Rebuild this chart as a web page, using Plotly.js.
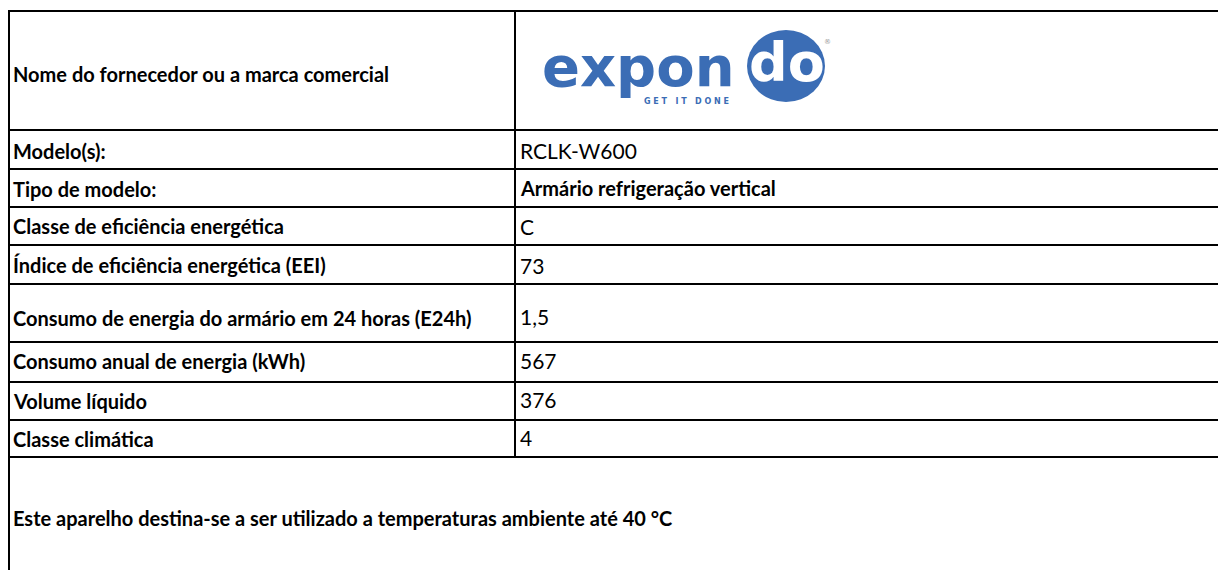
<!DOCTYPE html>
<html>
<head>
<meta charset="utf-8">
<script src="https://cdn.plot.ly/plotly-3.0.1.min.js"></script>
<style>html,body{margin:0;padding:0;background:#fff;}#chart{width:1218px;height:570px;}</style>
</head>
<body>
<div id="chart"></div>
<script>
// ---- data ----
var labels = [
  "Nome do fornecedor ou a marca comercial",
  "Modelo(s):",
  "Tipo de modelo:",
  "Classe de eficiência energética",
  "Índice de eficiência energética (EEI)",
  "Consumo de energia do armário em 24 horas (E24h)",
  "Consumo anual de energia (kWh)",
  "Volume líquido",
  "Classe climática"
];
var values = ["", "RCLK-W600", "Armário refrigeração vertical", "C", "73", "1,5", "567", "376", "4"];
var boldValues = [false, false, true, false, false, false, false, false, false];
var footnote = "Este aparelho destina-se a ser utilizado a temperaturas ambiente até 40 °C";
var brandWord = "expon";
var brandCircle = "do";
var brandTagline = "G E T   I T   D O N E";

// ---- layout constants (pixel geometry of the sheet) ----
var rowEdges = [11, 130, 169, 207, 245, 284, 342, 382, 420, 457];
var labelY = [74, 151, 189, 226, 265, 318, 361, 401, 439];
var valueY = [0, 150, 188, 226, 265, 316, 360, 399, 437];
var footY = 518;
var leftX = 9, colX = 515, rightX = 1230, bottomY = 580;
var labelFont = {family: "Lato, 'Open Sans', sans-serif", size: 20, color: "#000", weight: 700};
var valueFont = {family: "Lato, 'Open Sans', sans-serif", size: 21, color: "#000"};
var blue = "#3b6db5";

var shapes = [];
var line = {color: "#000", width: 2};
rowEdges.forEach(function (y) {
  shapes.push({type: "line", xref: "x", yref: "y", x0: leftX, x1: rightX, y0: y, y1: y, line: line});
});
shapes.push({type: "line", xref: "x", yref: "y", x0: leftX, x1: leftX, y0: rowEdges[0] - 1, y1: bottomY, line: line});
shapes.push({type: "line", xref: "x", yref: "y", x0: colX, x1: colX, y0: rowEdges[0], y1: rowEdges[rowEdges.length - 1], line: line});
// logo circle
shapes.push({type: "circle", xref: "x", yref: "y", x0: 747, x1: 825, y0: 30, y1: 102, fillcolor: blue, line: {width: 0}});

var annotations = [];
labels.forEach(function (t, i) {
  annotations.push({x: leftX + 2, y: labelY[i], xref: "x", yref: "y", text: "<b>" + t + "</b>", showarrow: false,
    xanchor: "left", yanchor: "middle", font: labelFont});
  if (values[i]) {
    annotations.push({x: colX + 3, y: valueY[i], xref: "x", yref: "y",
      text: boldValues[i] ? "<b>" + values[i] + "</b>" : values[i], showarrow: false,
      xanchor: "left", yanchor: "middle", font: boldValues[i] ? labelFont : valueFont});
  }
});
annotations.push({x: leftX + 2, y: footY, xref: "x", yref: "y", text: "<b>" + footnote + "</b>", showarrow: false,
  xanchor: "left", yanchor: "middle", font: labelFont});
// logo text
annotations.push({x: 540, y: 66, xref: "x", yref: "y", text: "<b>" + brandWord + "</b>", showarrow: false, xanchor: "left", yanchor: "middle",
  font: {family: "'DejaVu Sans', sans-serif", size: 56, color: blue}});
annotations.push({x: 787, y: 62, xref: "x", yref: "y", text: "<b>" + brandCircle + "</b>", showarrow: false, xanchor: "center", yanchor: "middle",
  font: {family: "'DejaVu Sans', sans-serif", size: 54, color: "#fff"}});
annotations.push({x: 642, y: 101, xref: "x", yref: "y", text: "<b>" + brandTagline + "</b>", showarrow: false, xanchor: "left", yanchor: "middle",
  font: {family: "'DejaVu Sans', sans-serif", size: 8, color: blue}});
annotations.push({x: 827, y: 42, xref: "x", yref: "y", text: "®", showarrow: false, xanchor: "center", yanchor: "middle",
  font: {family: "'DejaVu Sans', sans-serif", size: 7, color: "#999"}});

var layout = {
  width: 1218, height: 570,
  margin: {l: 0, r: 0, t: 0, b: 0},
  paper_bgcolor: "#fff", plot_bgcolor: "#fff",
  xaxis: {range: [0, 1218], visible: false, fixedrange: true},
  yaxis: {range: [570, 0], visible: false, fixedrange: true},
  showlegend: false,
  shapes: shapes,
  annotations: annotations
};
Plotly.newPlot("chart", [], layout, {displayModeBar: false, staticPlot: true});
</script>
</body>
</html>
